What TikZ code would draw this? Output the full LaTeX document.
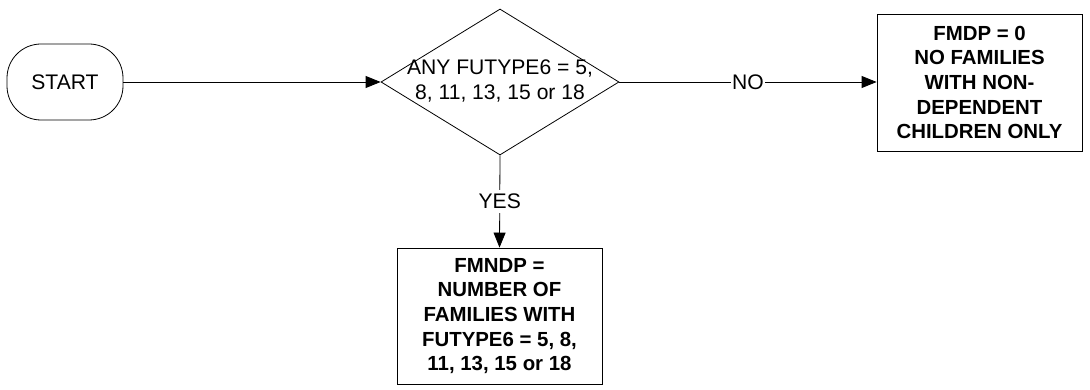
\documentclass[tikz,border=0pt]{standalone}
\usepackage{fontspec}
\setmainfont{Liberation Sans}
\usetikzlibrary{shapes.geometric,arrows.meta}
\tikzset{
  every node/.style={font=\fontsize{21.1}{25}\selectfont},
  line/.style={line width=0.8pt,draw=black},
  arrow/.style={line, -{Triangle[length=15pt,width=12pt]}},
  startbox/.style={line, rectangle, rounded corners=34pt, minimum width=116pt, minimum height=76pt, inner sep=0pt},
  decision/.style={line, diamond, minimum width=238pt, minimum height=146pt, inner sep=0pt},
  procbox/.style={line, rectangle, minimum width=205pt, minimum height=136pt, inner sep=0pt, align=center, font=\fontsize{20.4}{24.7}\selectfont\bfseries},
  edgelabel/.style={fill=white, inner sep=1pt}
}
\begin{document}
\begin{tikzpicture}[x=1pt,y=-1pt]
\useasboundingbox (0,0) rectangle (1090,390);
\node[startbox] (start) at (65,82) {START};
\node[decision] (dec) at (500,82) {};
\node[align=center, inner sep=0pt] (dectext) at (500,81) {ANY FUTYPE6 = 5,\\8, 11, 13, 15 or 18};
\node[procbox, minimum height=137pt] (nobox) at (979.5,82.5) {FMDP = 0\\NO FAMILIES\\WITH NON-\\DEPENDENT\\CHILDREN ONLY};
\node[procbox] (yesbox) at (499.5,316) {FMNDP =\\NUMBER OF\\FAMILIES WITH\\FUTYPE6 = 5, 8,\\11, 13, 15 or 18};
\draw[arrow] (start.east) -- (dec.west);
\draw[arrow] (dec.east) -- node[edgelabel, inner ysep=3pt] (nolabel) {NO} (dec.east -| nobox.west);
\draw[arrow] (dec.south) -- node[edgelabel, inner ysep=4pt] (yeslabel) {YES} (yesbox.north);
\end{tikzpicture}
\end{document}
